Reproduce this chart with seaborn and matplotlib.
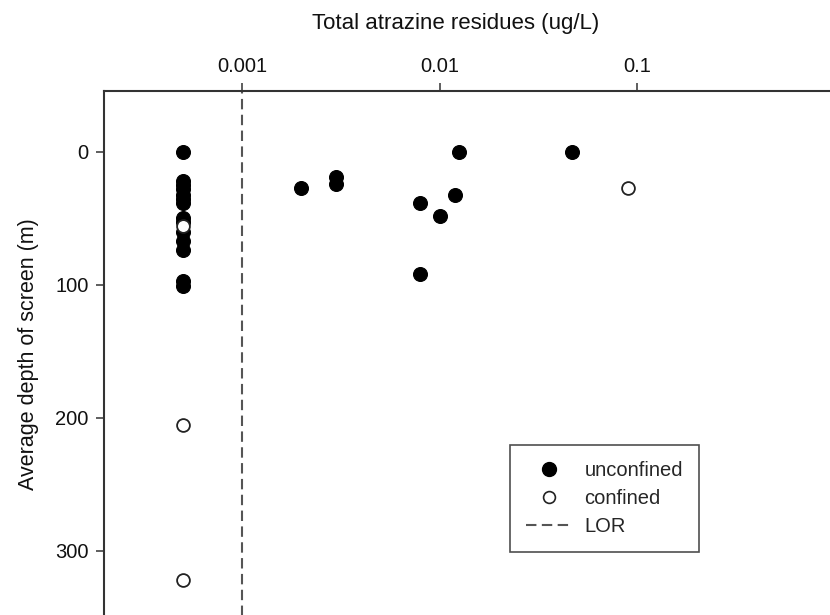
import numpy as np
import pandas as pd
import matplotlib
matplotlib.use("Agg")
import matplotlib.pyplot as plt
from matplotlib.lines import Line2D
import seaborn as sns

# Total atrazine residues (ug/L); non-detects plotted at half the LOR (0.0005)
unconfined_residue = [0.0005] * 14 + [0.002, 0.003, 0.003, 0.0125, 0.047,
                                      0.012, 0.008, 0.01, 0.008]
unconfined_depth = [0, 22, 25, 28, 32, 35, 38, 50, 53, 60, 67, 74, 97, 101,
                    27, 19, 24, 0, 0, 32, 38, 48, 92]

confined_residue = [0.0005, 0.0005, 0.0005, 0.09]
confined_depth = [56, 205, 322, 27]

lor = 0.001
x_ticks = [0.001, 0.01, 0.1, 1]
x_tick_labels = ["0.001", "0.01", "0.1", "1"]
y_ticks = [0, 100, 200, 300]

df = pd.DataFrame({
    "residue": unconfined_residue + confined_residue,
    "depth": unconfined_depth + confined_depth,
    "aquifer": ["unconfined"] * len(unconfined_residue)
               + ["confined"] * len(confined_residue),
})

sns.set_style("white")
plt.rcParams["font.family"] = ["Liberation Sans", "DejaVu Sans"]

W, H = 830, 615
ax_left, ax_right, ax_top, ax_bottom = 104, 834.5, 90.8, 617.5
fig = plt.figure(figsize=(W / 100, H / 100), dpi=100)
ax = fig.add_axes([ax_left / W, 1 - ax_bottom / H,
                   (ax_right - ax_left) / W, (ax_bottom - ax_top) / H])

sns.scatterplot(data=df[df.aquifer == "unconfined"], x="residue", y="depth",
                ax=ax, color="black", edgecolor="black", s=100, linewidth=0.8,
                zorder=3, legend=False)
sns.scatterplot(data=df[df.aquifer == "confined"], x="residue", y="depth",
                ax=ax, color="white", edgecolor="#222222", s=85, linewidth=1.3,
                zorder=4, legend=False)

lor_dash = (5, 2.6)
ax.axvline(lor, color="#555555", lw=1.5, dashes=lor_dash, zorder=2)

ax.set_xscale("log")
ax.set_xlim(0.0002, 1)
ax.set_ylim(350, -46)

ax.xaxis.set_ticks_position("top")
ax.xaxis.set_label_position("top")
ax.set_xticks(x_ticks)
ax.set_xticklabels(x_tick_labels)
ax.xaxis.set_minor_locator(matplotlib.ticker.NullLocator())
ax.set_yticks(y_ticks)

ax.tick_params(axis="both", which="major", direction="out", length=6,
               width=1.1, color="#333333", labelsize=14.5, pad=5,
               labelcolor="#111111")
ax.tick_params(axis="x", top=True, bottom=False)
ax.tick_params(axis="y", left=True, right=False)

ax.set_xlabel("Total atrazine residues (ug/L)", fontsize=16, labelpad=20,
              color="#111111")
ax.xaxis.label.set_x((456 - ax_left) / (ax_right - ax_left))
ax.set_ylabel("Average depth of screen (m)", fontsize=15.5, labelpad=12,
              color="#111111")

for side in ax.spines.values():
    side.set_color("#333333")
    side.set_linewidth(1.5)

handles = [
    Line2D([], [], ls="none", marker="o", markersize=10,
           markerfacecolor="black", markeredgecolor="black"),
    Line2D([], [], ls="none", marker="o", markersize=8.5,
           markerfacecolor="white", markeredgecolor="#222222",
           markeredgewidth=1.2),
    Line2D([], [], color="#555555", lw=1.5, dashes=lor_dash),
]
leg = ax.legend(handles, ["unconfined", "confined", "LOR"],
                loc="lower left",
                bbox_to_anchor=((510 - ax_left) / (ax_right - ax_left),
                                (ax_bottom - 552) / (ax_bottom - ax_top)),
                borderaxespad=0, frameon=True, fancybox=False,
                fontsize=14.5, handlelength=2.3, handletextpad=0.6,
                labelspacing=0.44, borderpad=0.8)
leg.get_frame().set_edgecolor("#222222")
leg.get_frame().set_linewidth(1.2)

fig.savefig("out.png", dpi=100)
